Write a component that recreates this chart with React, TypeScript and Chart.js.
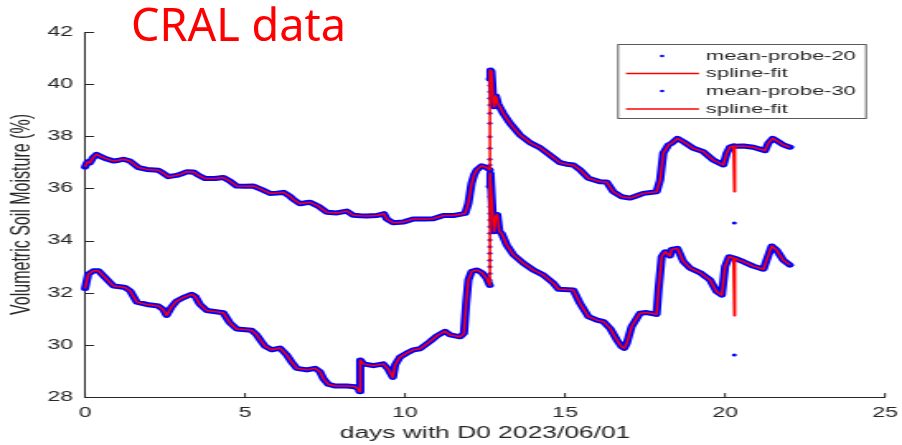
import React, { useEffect, useRef } from "react";
import { Chart, registerables } from "chart.js";

Chart.register(...registerables);

// ---------- data ----------
const xTickValues = [0, 5, 10, 15, 20, 25];
const yTickValues = [28, 30, 32, 34, 36, 38, 40, 42];

const days20 = [
  0.0, 0.08, 0.15, 0.25, 0.36, 0.5, 0.63, 0.89, 1.05, 1.2, 1.4, 1.67, 1.93, 2.29, 2.45, 2.6, 2.75, 2.86, 3.0, 3.18,
  3.39, 3.55, 3.75, 4.06, 4.32, 4.53, 4.74, 5.0, 5.26, 5.52, 5.78, 6.0, 6.2, 6.4, 6.51, 6.72, 6.9, 7.03, 7.29, 7.55,
  7.87, 8.18, 8.38, 8.6, 8.8, 9.12, 9.34, 9.43, 9.63, 9.95, 10.26, 10.6, 10.88, 11.2, 11.5, 11.88, 11.98, 12.08, 12.16, 12.24,
  12.4, 12.55, 12.65,
  12.65, 12.65, 12.65, 12.65, 12.65, 12.65, 12.65, 12.65, 12.65, 12.65, 12.65,
  12.67, 12.7, 12.76, 12.79, 12.84, 12.9, 13.07, 13.28, 13.59, 13.91, 14.22, 14.53, 14.84, 15.05, 15.26, 15.47, 15.73, 16.09,
  16.3, 16.51, 16.77, 17.03, 17.2, 17.45, 17.86, 17.97, 18.07, 18.23, 18.33, 18.51, 18.7, 19.01, 19.32, 19.63, 19.95, 20.05,
  20.15, 20.26, 20.31, 20.57, 20.88, 21.25, 21.35, 21.49, 21.67, 21.82, 22.03,
];
const probe20 = [
  36.82, 37.02, 36.98, 37.18, 37.31, 37.22, 37.15, 37.05, 37.08, 37.12, 37.05, 36.8, 36.73, 36.7, 36.58, 36.45, 36.48, 36.5, 36.55, 36.64,
  36.63, 36.5, 36.38, 36.38, 36.42, 36.28, 36.09, 36.08, 36.09, 35.96, 35.81, 35.82, 35.85, 35.7, 35.58, 35.41, 35.45, 35.47, 35.32, 35.09,
  35.06, 35.13, 34.97, 34.95, 34.94, 34.96, 35.03, 34.83, 34.68, 34.71, 34.83, 34.83, 34.84, 34.96, 34.96, 35.04, 35.43, 36.2, 36.52, 36.71,
  36.87, 36.8, 36.71,
  36.9, 37.12, 37.54, 37.98, 38.5, 38.88, 39.2, 39.46, 39.71, 39.95, 40.2,
  40.54, 40.5, 39.3, 39.13, 39.55, 39.26, 38.88, 38.5, 38.05, 37.75, 37.56, 37.28, 36.99, 36.93, 36.9, 36.71, 36.39, 36.26,
  36.25, 35.87, 35.68, 35.63, 35.7, 35.81, 35.87, 36.32, 37.35, 37.67, 37.73, 37.92, 37.79, 37.54, 37.41, 37.09, 36.9, 37.35,
  37.58, 37.63, 37.62, 37.63, 37.58, 37.45, 37.73, 37.92, 37.79, 37.67, 37.58,
];

const days30 = [
  0.0, 0.1, 0.26, 0.42, 0.63, 0.89, 1.09, 1.25, 1.41, 1.62, 1.93, 2.29, 2.45, 2.55, 2.7, 2.86, 3.07, 3.33, 3.45, 3.59,
  3.8, 4.32, 4.53, 4.74, 5.2, 5.36, 5.5, 5.63, 5.84, 6.09, 6.3, 6.45, 6.62, 6.93, 7.19, 7.34, 7.45, 7.6, 7.81, 8.18,
  8.44, 8.55, 8.58, 8.6, 8.7, 9.01, 9.32, 9.48, 9.62, 9.69, 9.84, 10.05, 10.26, 10.47, 10.78, 11.0, 11.25, 11.41, 11.72, 11.84,
  11.91, 11.98, 12.08, 12.24, 12.4, 12.55, 12.65,
  12.65, 12.65, 12.65, 12.65, 12.65, 12.65, 12.65, 12.65, 12.65, 12.65, 12.65, 12.65, 12.65, 12.65,
  12.67, 12.72, 12.76, 12.79, 12.83, 12.88, 12.95, 13.02, 13.18, 13.39, 13.7, 14.01, 14.32, 14.64, 14.8, 15.26, 15.47, 15.73,
  16.0, 16.2, 16.41, 16.62, 16.77, 16.85, 16.93, 17.08, 17.34, 17.55, 17.86, 17.92, 18.02, 18.13, 18.28, 18.33, 18.51, 18.7,
  18.91, 19.22, 19.53, 19.74, 19.9, 20.0, 20.13, 20.26, 20.31, 20.57, 20.88, 21.2, 21.3, 21.46, 21.61, 21.82, 22.03,
];
const probe30 = [
  32.16, 32.71, 32.84, 32.84, 32.58, 32.26, 32.23, 32.2, 32.07, 31.64, 31.55, 31.49, 31.35, 31.13, 31.45, 31.68, 31.81, 31.94, 31.85, 31.55,
  31.32, 31.23, 30.84, 30.61, 30.56, 30.39, 30.15, 29.94, 29.81, 29.88, 29.62, 29.35, 29.1, 29.04, 29.1, 28.97, 28.7, 28.49, 28.42, 28.42,
  28.39, 28.3, 28.2, 29.42, 29.27, 29.2, 29.27, 29.06, 28.75, 29.23, 29.53, 29.68, 29.81, 29.85, 30.13, 30.35, 30.52, 30.38, 30.31, 30.44,
  31.59, 32.49, 32.81, 32.87, 32.77, 32.55, 32.28,
  32.49, 32.74, 33.0, 33.25, 33.51, 33.76, 34.02, 34.28, 34.53, 34.79, 35.04, 35.3, 35.68, 36.07,
  36.58, 35.4, 34.6, 34.34, 34.92, 35.0, 34.34, 34.28, 33.83, 33.45, 33.13, 32.87, 32.68, 32.36, 32.13, 32.1, 31.59, 31.08,
  30.95, 30.89, 30.63, 30.19, 29.93, 29.87, 30.06, 30.7, 31.21, 31.24, 31.17, 32.1, 33.38, 33.57, 33.41, 33.66, 33.7, 33.19,
  32.94, 32.77, 32.49, 32.04, 31.91, 33.0, 33.38, 33.33, 33.32, 33.19, 33.02, 32.9, 33.25, 33.79, 33.64, 33.25, 33.06,
];

// single outlying sample near day 20.3 and the fit's value there
const outlierDay = 20.29;
const probe20Outlier = 34.67;
const fit20AtOutlier = 35.87;
const probe30Outlier = 29.61;
const fit30AtOutlier = 31.12;

const seriesLabels = ["mean-probe-20", "spline-fit", "mean-probe-30", "spline-fit"];
const seriesKinds = ["dot", "line", "dot", "line"];

// ---------- styling ----------
const BLUE = "#0000ff";
const RED = "#ff0000";
const AXIS = "#262626";
const FONT = "'Liberation Sans', Arial, Helvetica, sans-serif";
const CSS_W = 902;
const CSS_H = 445;
const CANVAS_W = 547; // the reference figure is stretched horizontally (~1.65x)

type P = { x: number; y: number };

function withExtra(days: number[], vals: number[], xd: number, yv: number): P[] {
  const pts: P[] = days.map((d, i) => ({ x: d, y: vals[i] }));
  const idx = pts.findIndex((p) => p.x > xd);
  const at = idx < 0 ? pts.length : idx;
  pts.splice(at, 0, { x: xd, y: yv });
  return pts;
}

function dataSet(label: string, pts: P[], order: number) {
  return {
    label,
    data: pts,
    order,
    showLine: true,
    borderColor: BLUE,
    borderWidth: 5,
    borderJoinStyle: "round",
    borderCapStyle: "round",
    pointRadius: 1.5,
    pointHoverRadius: 1.5,
    pointBorderWidth: 0,
    pointBackgroundColor: BLUE,
    tension: 0,
    clip: false,
    segment: {
      borderColor: (ctx: any) => {
        const a = pts[ctx.p0DataIndex];
        const b = pts[ctx.p1DataIndex];
        if (!a || !b) return BLUE;
        return a.x === b.x || Math.abs(a.y - b.y) > 2 ? "rgba(0,0,255,0)" : BLUE;
      },
    },
  };
}

function fitSet(label: string, pts: P[], order: number) {
  return {
    label,
    data: pts,
    order,
    showLine: true,
    borderColor: RED,
    borderWidth: 1.5,
    borderJoinStyle: "round",
    pointRadius: 0,
    pointHoverRadius: 0,
    tension: 0,
    clip: false,
  };
}

const insideTicks = {
  id: "insideTicks",
  afterDraw(chart: any) {
    const { ctx, chartArea } = chart;
    const xs = chart.scales.x;
    const ys = chart.scales.y;
    ctx.save();
    ctx.strokeStyle = AXIS;
    ctx.lineWidth = 1;
    ctx.beginPath();
    xs.ticks.forEach((t: any) => {
      const px = xs.getPixelForValue(t.value);
      ctx.moveTo(px, chartArea.bottom);
      ctx.lineTo(px, chartArea.bottom - 4);
    });
    ys.ticks.forEach((t: any) => {
      const py = Math.round(ys.getPixelForValue(t.value)) + 0.5;
      ctx.moveTo(chartArea.left, py);
      ctx.lineTo(chartArea.left + 5.5, py);
    });
    ctx.stroke();
    ctx.restore();
  },
};

const boxLegend = {
  id: "boxLegend",
  afterDraw(chart: any) {
    const { ctx, chartArea } = chart;
    const w = 150.4;
    const h = 74;
    const left = chartArea.right - 11.5 - w;
    const top = chartArea.top + 12;
    const rows = [12, 29.5, 47, 65];
    ctx.save();
    ctx.fillStyle = "#ffffff";
    ctx.fillRect(left, top, w, h);
    ctx.lineWidth = 1;
    ctx.strokeStyle = "#5a5a5a";
    ctx.strokeRect(left, top + 0.5, w, h);
    for (let i = 0; i < seriesLabels.length; i++) {
      const y = top + rows[i];
      if (seriesKinds[i] === "line") {
        ctx.beginPath();
        ctx.strokeStyle = RED;
        ctx.lineWidth = 1.5;
        ctx.moveTo(left + 4.8, y);
        ctx.lineTo(left + 49.1, y);
        ctx.stroke();
      } else {
        ctx.beginPath();
        ctx.fillStyle = BLUE;
        ctx.arc(left + 26.7, y, 1.3, 0, Math.PI * 2);
        ctx.fill();
      }
      ctx.fillStyle = AXIS;
      ctx.font = `13.3px ${FONT}`;
      ctx.textAlign = "left";
      ctx.textBaseline = "middle";
      ctx.fillText(seriesLabels[i], left + 53.3, y);
    }
    ctx.restore();
  },
};

export default function App() {
  const canvasRef = useRef<HTMLCanvasElement | null>(null);

  useEffect(() => {
    document.body.style.margin = "0";
    const canvas = canvasRef.current;
    if (!canvas) return;

    const data20 = withExtra(days20, probe20, outlierDay, probe20Outlier);
    const fit20 = withExtra(days20, probe20, outlierDay, fit20AtOutlier);
    const data30 = withExtra(days30, probe30, outlierDay, probe30Outlier);
    const fit30 = withExtra(days30, probe30, outlierDay, fit30AtOutlier);

    const chart = new Chart(canvas, {
      type: "line",
      data: {
        datasets: [
          dataSet(seriesLabels[0], data20, 4),
          fitSet(seriesLabels[1], fit20, 3),
          dataSet(seriesLabels[2], data30, 2),
          fitSet(seriesLabels[3], fit30, 1),
        ] as any,
      },
      options: {
        responsive: false,
        animation: false,
        devicePixelRatio: 1,
        events: [],
        layout: { padding: { left: 0, right: 10.3, top: 32, bottom: 0 } },
        plugins: {
          legend: { display: false },
          tooltip: { enabled: false },
          title: { display: false },
          colors: { enabled: false },
        },
        scales: {
          x: {
            type: "linear",
            min: 0,
            max: 25,
            afterBuildTicks: (s: any) => {
              s.ticks = xTickValues.map((v) => ({ value: v }));
            },
            afterFit: (s: any) => {
              s.height = 48;
              s.paddingLeft = 0;
              s.paddingRight = 0;
            },
            grid: { display: false, drawTicks: false },
            border: { display: true, color: AXIS, width: 1 },
            ticks: {
              padding: 8,
              color: AXIS,
              maxRotation: 0,
              autoSkip: false,
              font: { family: FONT, size: 14 },
            },
            title: {
              display: true,
              text: "days with D0 2023/06/01",
              color: AXIS,
              font: { family: FONT, size: 16 },
              padding: { top: 0, bottom: 2 },
            },
          },
          y: {
            type: "linear",
            min: 28,
            max: 42,
            afterBuildTicks: (s: any) => {
              s.ticks = yTickValues.map((v) => ({ value: v }));
            },
            afterFit: (s: any) => {
              s.width = 51.55;
              s.paddingTop = 0;
              s.paddingBottom = 0;
            },
            grid: { display: false, drawTicks: false },
            border: { display: true, color: AXIS, width: 1 },
            ticks: {
              padding: 7.3,
              color: AXIS,
              autoSkip: false,
              font: { family: FONT, size: 14 },
            },
            title: {
              display: true,
              text: "Volumetric Soil Moisture (%)",
              color: AXIS,
              font: { family: FONT, size: 16 },
              padding: { top: 4.3, bottom: 0 },
            },
          },
        },
      } as any,
      plugins: [insideTicks, boxLegend],
    });

    return () => {
      chart.destroy();
    };
  }, []);

  return (
    <div style={{ position: "relative", width: CSS_W, height: CSS_H, overflow: "hidden", background: "#ffffff" }}>
      <canvas
        ref={canvasRef}
        width={CANVAS_W}
        height={CSS_H}
        style={{ width: CSS_W + "px", height: CSS_H + "px", display: "block" }}
      />
      <div
        style={{
          position: "absolute",
          left: 131,
          top: 1,
          fontFamily: "'Noto Sans', 'Open Sans', sans-serif",
          fontSize: 45,
          lineHeight: "45px",
          color: RED,
          whiteSpace: "nowrap",
          pointerEvents: "none",
        }}
      >
        CRAL data
      </div>
    </div>
  );
}
